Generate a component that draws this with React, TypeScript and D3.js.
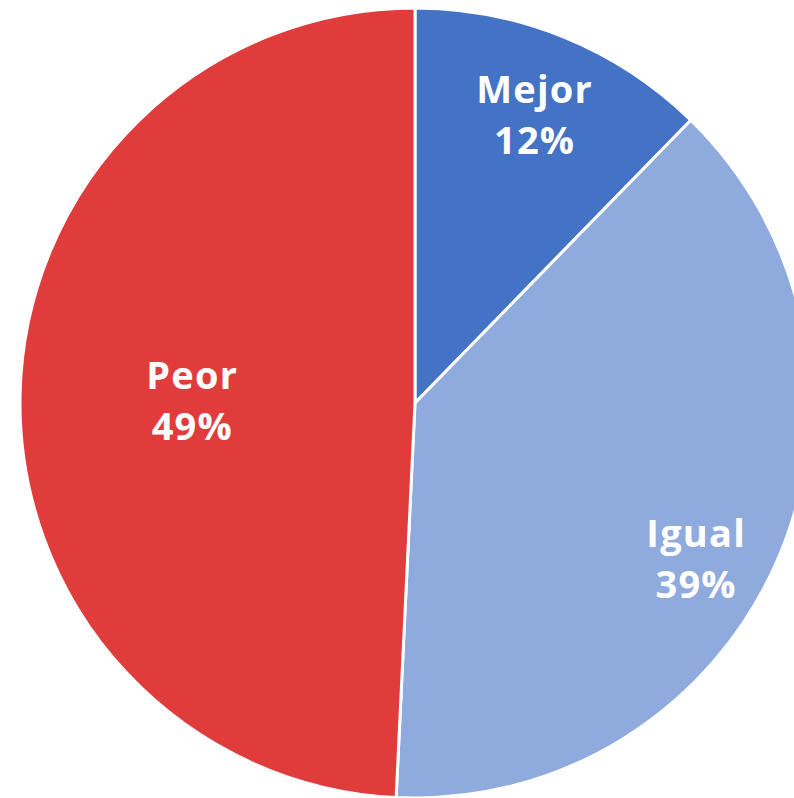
import React from "react";
import * as d3 from "d3";

const categories = ["Mejor", "Igual", "Peor"];
const values = [12.3, 38.46, 49.24];
const valueLabels = ["12%", "39%", "49%"];
const colors = ["#4472C4", "#8FAADC", "#E03C3C"];
// label placement: [angle in degrees clockwise from top, distance from center]
const labelPolar: [number, number][] = [
  [23.5, 300],
  [121, 328],
  [267.2, 223],
];

const W = 794;
const H = 798;
const cx = 415;
const cy = 403;
const R = 395;

export default function App() {
  const pie = d3.pie<number>().sort(null).value((d) => d);
  const arcs = pie(values);
  const arc = d3.arc<d3.PieArcDatum<number>>().innerRadius(0).outerRadius(R);
  const textProps = {
    textAnchor: "middle" as const,
    fill: "#fff",
    fontFamily: "'Open Sans', Lato, sans-serif",
    fontWeight: 700,
    fontSize: 38,
    letterSpacing: 1.2,
  };
  return (
    <svg
      width={W}
      height={H}
      style={{ position: "absolute", left: 0, top: 0 }}
    >
      <g transform={`translate(${cx},${cy})`}>
        {arcs.map((a, i) => (
          <path
            key={i}
            d={arc(a) || ""}
            fill={colors[i]}
            stroke="#fff"
            strokeWidth={3}
            strokeLinejoin="round"
          />
        ))}
        {arcs.map((a, i) => {
          const [deg, r] = labelPolar[i];
          const t = (deg * Math.PI) / 180;
          const x = Math.sin(t) * r;
          const y = -Math.cos(t) * r;
          return (
            <g key={"l" + i} transform={`translate(${x},${y})`}>
              <text {...textProps} y={-25}>
                {categories[i]}
              </text>
              <text {...textProps} y={26}>
                {valueLabels[i]}
              </text>
            </g>
          );
        })}
      </g>
    </svg>
  );
}
